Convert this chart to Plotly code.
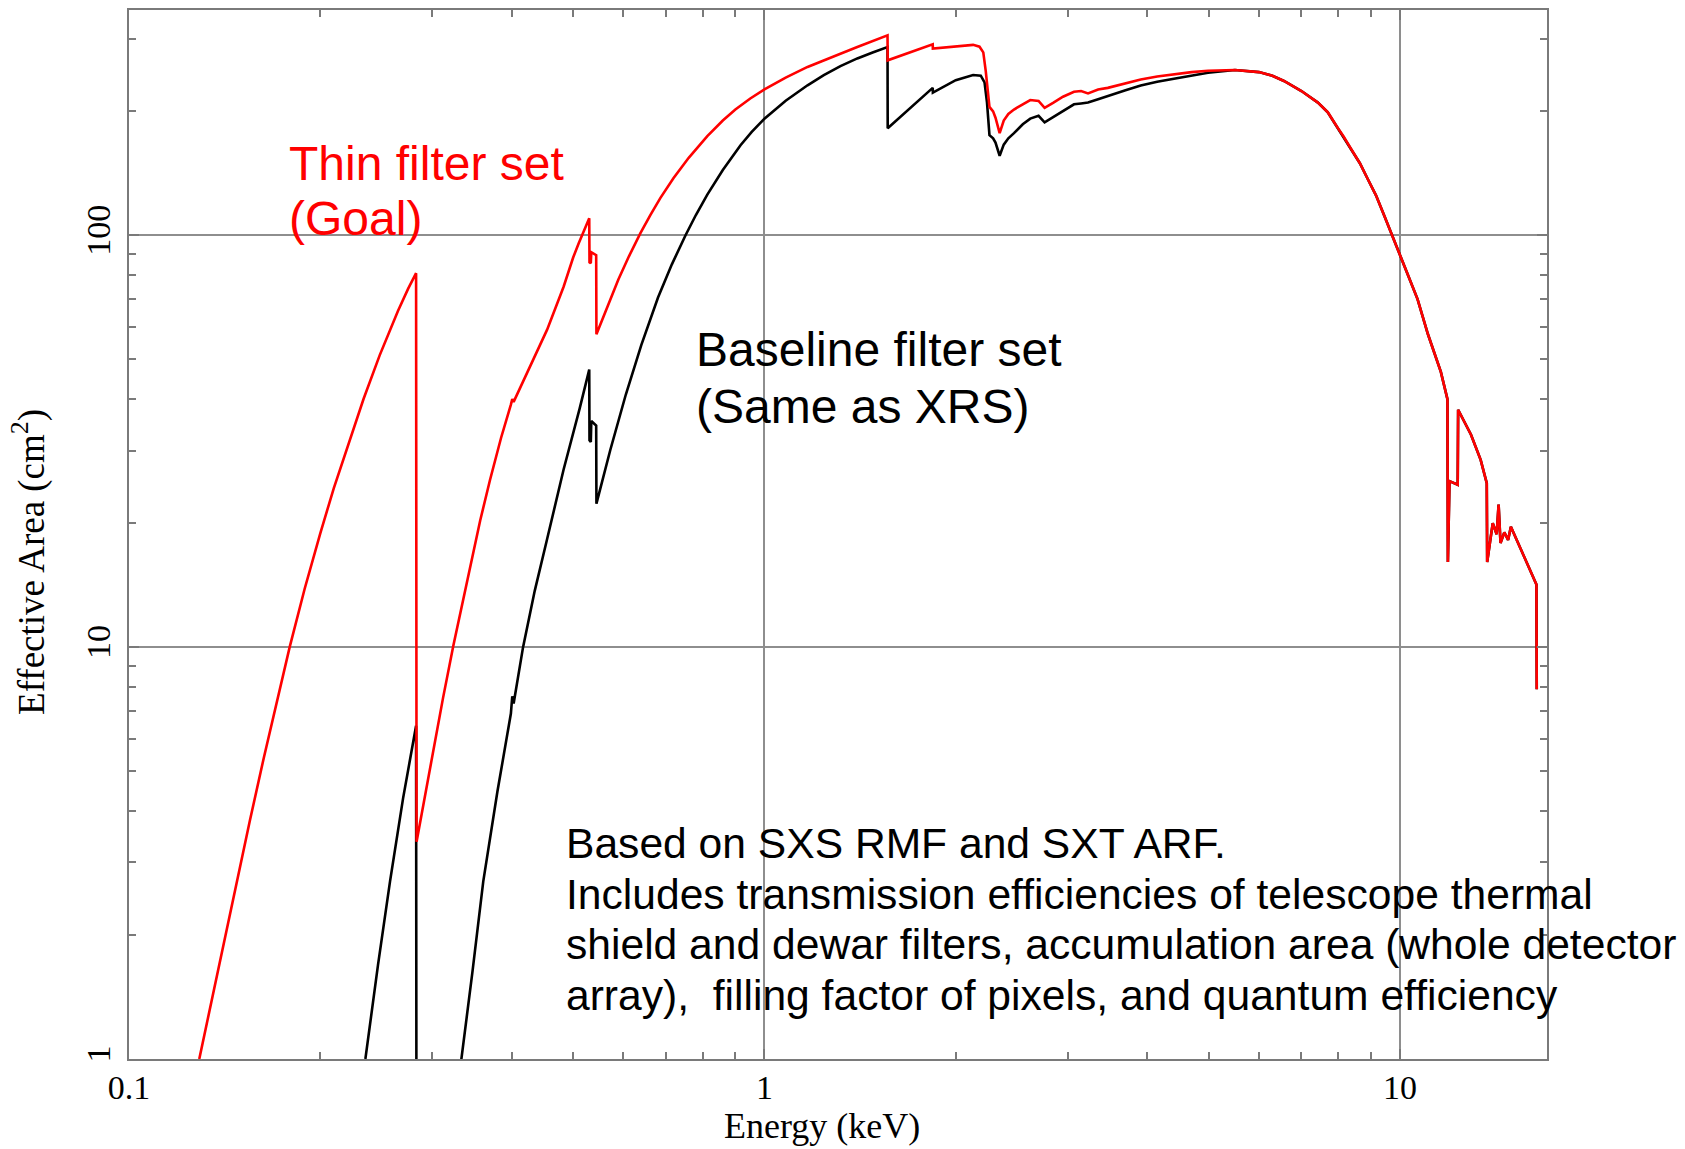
import plotly.graph_objects as go

# Effective area (cm^2) versus energy (keV).
# Thin filter set, below 5.5 keV
thin_energy = [0.129, 0.136, 0.142, 0.148, 0.155, 0.163, 0.171, 0.179, 0.189, 0.200,
               0.210, 0.220, 0.234, 0.248, 0.265, 0.275, 0.283, 0.2835, 0.300, 0.312,
               0.324, 0.340, 0.357, 0.370, 0.385, 0.399, 0.401, 0.403, 0.430, 0.455,
               0.483, 0.500, 0.510, 0.530, 0.5305, 0.533, 0.534, 0.5435, 0.544, 0.565,
               0.589, 0.612, 0.638, 0.662, 0.686, 0.719, 0.760, 0.813, 0.860, 0.900,
               0.950, 1.0, 1.08, 1.169, 1.24, 1.317, 1.40, 1.48, 1.562, 1.563,
               1.70, 1.84, 1.841, 2.0, 2.13, 2.18, 2.21, 2.23, 2.26, 2.29,
               2.31, 2.345, 2.38, 2.42, 2.47, 2.55, 2.62, 2.70, 2.76, 2.85,
               2.95, 3.07, 3.15, 3.23, 3.35, 3.47, 3.70, 3.91, 4.15, 4.41,
               4.70, 4.99]
thin_area = [1.0, 1.477, 2.03, 2.74, 3.80, 5.39, 7.45, 10.0, 13.86, 18.9,
             24.3, 30.3, 40.1, 51.1, 65.5, 74.2, 80.9, 3.37, 5.45, 7.52,
             10.1, 14.4, 20.3, 25.5, 32.2, 38.8, 40.0, 39.4, 48.8, 59.0,
             75.0, 88.3, 95.5, 110.0, 86.0, 85.5, 91.0, 89.5, 57.5, 66.9,
             78.1, 88.9, 101.2, 112.3, 123.3, 137.6, 154.2, 174.1, 190.0, 202.0,
             214.9, 226.1, 241.5, 256.3, 266.2, 276.0, 286.4, 296.1, 305.8, 266.0,
             279.0, 291.0, 284.0, 288.0, 290.0, 287.0, 278.0, 250.0, 205.0, 200.0,
             193.0, 177.0, 190.0, 197.0, 202.0, 208.0, 213.0, 212.0, 204.0, 210.0,
             217.0, 223.0, 224.0, 221.0, 226.0, 228.0, 234.0, 239.0, 243.0, 246.0,
             249.0, 251.0]

# Baseline filter set, below 5.5 keV
base_energy = [0.2355, 0.2465, 0.2575, 0.270, 0.283, 0.2835, 0.310, 0.3335, 0.347, 0.361,
               0.380, 0.399, 0.401, 0.403, 0.417, 0.435, 0.455, 0.483, 0.512, 0.530,
               0.5305, 0.533, 0.534, 0.5435, 0.544, 0.572, 0.605, 0.640, 0.680, 0.715,
               0.751, 0.780, 0.813, 0.860, 0.917, 0.955, 1.0, 1.08, 1.169, 1.24,
               1.317, 1.40, 1.48, 1.562, 1.563, 1.70, 1.84, 1.841, 2.0, 2.13,
               2.19, 2.22, 2.24, 2.26, 2.29, 2.31, 2.345, 2.38, 2.42, 2.47,
               2.55, 2.62, 2.70, 2.76, 2.85, 2.95, 3.07, 3.15, 3.23, 3.35,
               3.47, 3.70, 3.91, 4.15, 4.41, 4.70, 4.99]
base_area = [1.0, 1.69, 2.7, 4.3, 6.44, 0.3, 0.35, 1.0, 1.62, 2.7,
             4.46, 6.9, 7.6, 7.3, 10.0, 13.7, 18.3, 27.0, 38.0, 47.2,
             31.8, 31.5, 35.4, 34.5, 22.3, 30.1, 41.0, 54.1, 70.6, 85.0,
             99.9, 112.0, 125.5, 144.0, 165.4, 178.2, 191.9, 212.1, 231.3, 244.7,
             257.5, 268.8, 277.9, 286.3, 182.0, 205.0, 228.0, 222.0, 238.0, 245.0,
             244.0, 235.0, 210.0, 175.0, 172.0, 168.0, 156.0, 166.0, 172.0, 177.0,
             186.0, 192.0, 195.0, 188.0, 194.0, 201.0, 208.0, 209.0, 210.0, 214.0,
             218.0, 225.0, 231.0, 236.0, 240.0, 244.5, 248.0]

# Above 5.5 keV both filter sets give the same curve
hard_energy = [5.5, 6.0, 6.3, 6.57, 7.0, 7.43, 7.7, 7.99, 8.15, 8.38,
               8.65, 8.90, 9.17, 9.44, 9.75, 10.0, 10.3, 10.66, 11.07, 11.6,
               11.88, 11.90, 11.97, 12.33, 12.35, 12.94, 13.4, 13.70, 13.72, 14.0,
               14.2, 14.3, 14.4, 14.6, 14.8, 14.95, 16.4, 16.42]
hard_area = [252.0, 249.0, 244.0, 237.0, 224.0, 210.0, 199.0, 182.0, 174.0, 162.0,
             149.6, 137.0, 125.0, 112.0, 99.2, 89.4, 80.0, 70.0, 57.5, 46.6,
             40.0, 16.1, 25.3, 24.8, 37.7, 32.8, 28.5, 25.0, 16.1, 20.0,
             18.8, 22.2, 17.9, 19.0, 18.2, 19.6, 14.2, 7.9]

thin_label = ["Thin filter set", "(Goal)"]
base_label = ["Baseline filter set", "(Same as XRS)"]
note_lines = [
    "Based on SXS RMF and SXT ARF.",
    "Includes transmission efficiencies of telescope thermal",
    "shield and dewar filters, accumulation area (whole detector",
    "array),  filling factor of pixels, and quantum efficiency",
]

W, H = 1685, 1149
L, R, T, B = 129, 138, 8, 90
PW, PH = W - L - R, H - T - B


def paper_x(px):
    return (px - L) / PW


def paper_y(py):
    return (H - B - py) / PH


SANS = "Liberation Sans, Arial, sans-serif"
SERIF = "Liberation Serif, Times New Roman, serif"

fig = go.Figure()
fig.add_trace(go.Scatter(x=base_energy + hard_energy, y=base_area + hard_area, mode="lines",
                         line=dict(color="#000000", width=2.6), showlegend=False))
fig.add_trace(go.Scatter(x=thin_energy + hard_energy, y=thin_area + hard_area, mode="lines",
                         line=dict(color="#ff0000", width=2.6), showlegend=False))

frame = "#7a7a7a"
grid = "#8e8e8e"
axis_common = dict(
    type="log", showline=True, linecolor=frame, linewidth=2, mirror="allticks",
    ticks="inside", ticklen=10, tickwidth=1.5, tickcolor=frame,
    showgrid=True, gridcolor=grid, gridwidth=1.6, zeroline=False,
    tickmode="linear", tick0=0, dtick=1,
    tickfont=dict(family=SERIF, size=34, color="#000000"),
    minor=dict(ticks="inside", ticklen=7, tickwidth=1.5, tickcolor=frame,
               dtick="D1", showgrid=False),
)

fig.update_xaxes(range=[-1, 1.2315], ticklabelstandoff=-3, **axis_common)
fig.update_yaxes(range=[0, 2.547], tickangle=-90, ticklabelstandoff=3, **axis_common)

annotations = []


def add_line(text, left_px, baseline_px, size, color, family=SANS):
    # centre of the text box sits about 0.35 em above the baseline
    center = baseline_px - 0.3465 * size
    annotations.append(dict(
        text=text, xref="paper", yref="paper", x=paper_x(left_px), y=paper_y(center),
        xanchor="left", yanchor="middle", showarrow=False,
        font=dict(family=family, size=size, color=color)))


for i, t in enumerate(thin_label):
    add_line(t, 287, 178 + 56 * i, 48, "#ff0000")
for i, t in enumerate(base_label):
    add_line(t, 694, 365 + 57 * i, 48, "#000000")
for i, t in enumerate(note_lines):
    add_line(t, 564, 857 + 51 * i, 42.6, "#000000")

# axis titles
annotations.append(dict(
    text="Energy (keV)", xref="paper", yref="paper",
    x=paper_x(822), y=paper_y(1126), xanchor="center", yanchor="middle",
    showarrow=False, font=dict(family=SERIF, size=36, color="#000000")))
annotations.append(dict(
    text="Effective Area (cm<sup>2</sup>)", xref="paper", yref="paper",
    x=paper_x(29), y=paper_y(561), xanchor="center", yanchor="middle", textangle=-90,
    showarrow=False, font=dict(family=SERIF, size=37, color="#000000")))

fig.update_layout(
    width=W, height=H,
    margin=dict(l=L, r=R, t=T, b=B),
    paper_bgcolor="#ffffff", plot_bgcolor="#ffffff",
    annotations=annotations,
    showlegend=False,
)

fig.write_html("out.html", include_plotlyjs=True, config={"displayModeBar": False})
